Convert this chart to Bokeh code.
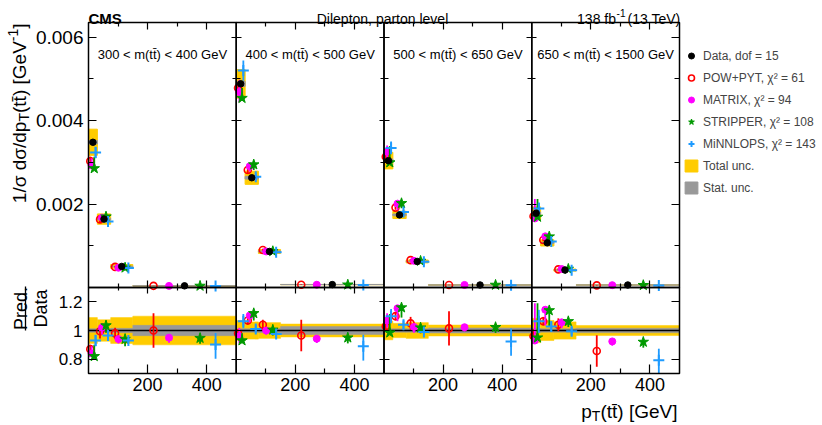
import math
from bokeh.plotting import figure
from bokeh.models import (Range1d, LinearAxis, FixedTicker, Label, Legend,
                          LegendItem, ColumnDataSource, Arrow)
from bokeh.core.properties import value
from bokeh.embed import file_html
from bokeh.resources import INLINE

FONT = "Liberation Sans"

# ---------------- data ----------------
pt_edges = [0, 30, 75, 150, 500]
mass_labels = ["300 < m(tt\u0304) < 400 GeV", "400 < m(tt\u0304) < 500 GeV",
               "500 < m(tt\u0304) < 650 GeV", "650 < m(tt\u0304) < 1500 GeV"]

data_xsec = [
    [0.00348, 0.00164, 0.000504, 0.00004],
    [0.00488, 0.00263, 0.000864, 0.00007],
    [0.00304, 0.00174, 0.000624, 0.00006],
    [0.00178, 0.00107, 0.000418, 0.00006],
]
total_unc = [
    [0.09, 0.075, 0.09, 0.10],
    [0.07, 0.06, 0.055, 0.045],
    [0.065, 0.05, 0.055, 0.038],
    [0.085, 0.07, 0.06, 0.035],
]
stat_unc = [
    [0.012, 0.012, 0.015, 0.036],
    [0.012, 0.012, 0.015, 0.028],
    [0.012, 0.012, 0.012, 0.018],
    [0.015, 0.012, 0.012, 0.016],
]

pow_ratio = [[0.87, 0.995, 0.98, 1.00], [0.98, 1.07, 1.04, 0.965],
             [1.03, 1.10, 1.05, 1.015], [0.96, 1.065, 1.04, 0.857]]
pow_up = [[0.03, 0.04, 0.04, 0.12], [0.03, 0.03, 0.035, 0.11],
          [0.03, 0.03, 0.045, 0.12], [0.05, 0.03, 0.045, 0.11]]
pow_dn = [[0.03, 0.05, 0.04, 0.12], [0.03, 0.03, 0.035, 0.11],
          [0.03, 0.03, 0.045, 0.12], [0.05, 0.03, 0.045, 0.11]]

matrix_ratio = [[0.84, 1.02, 0.94, 0.95], [0.96, 1.105, 1.00, 0.943],
                [1.07, 1.155, 1.025, 1.023], [0.93, 1.145, 1.057, 0.924]]
matrix_up = [[0.05, 0.03, 0.02, 0.015], [0.06, 0.02, 0.02, 0.015],
             [0.05, 0.01, 0.01, 0.01], [0.26, 0.02, 0.02, 0.01]]
matrix_dn = [[0.02, 0.05, 0.03, 0.035], [0.05, 0.05, 0.03, 0.03],
             [0.05, 0.09, 0.04, 0.03], [0.01, 0.11, 0.04, 0.03]]

stripper_ratio = [[0.82, 1.035, 0.94, 0.947], [0.93, 1.12, 1.005, 0.95],
                  [0.985, 1.16, 1.02, 1.023], [0.95, 1.14, 1.064, 0.92]]
stripper_up = [[0.08, 0.01, 0.01, 0.02], [0.05, 0.01, 0.01, 0.01],
               [0.13, 0.02, 0.01, 0.01], [0.24, 0.02, 0.01, 0.01]]
stripper_dn = [[0.01, 0.05, 0.05, 0.04], [0.01, 0.05, 0.04, 0.04],
               [0.01, 0.07, 0.04, 0.04], [0.005, 0.11, 0.04, 0.04]]

minnlops_ratio = [[0.93, 0.965, 0.93, 0.903], [1.065, 1.01, 0.975, 0.89],
                  [1.10, 1.04, 0.99, 0.924], [1.064, 1.028, 0.995, 0.793]]
minnlops_up = [[0.04, 0.03, 0.02, 0.08], [0.05, 0.03, 0.03, 0.08],
               [0.05, 0.03, 0.02, 0.09], [0.08, 0.03, 0.03, 0.08]]
minnlops_dn = [[0.04, 0.03, 0.02, 0.10], [0.05, 0.03, 0.03, 0.10],
               [0.05, 0.03, 0.02, 0.10], [0.08, 0.03, 0.03, 0.10]]

legend_data = "Data, dof = 15"
legend_models = ["POW+PYT, \u03c7\u00b2 = 61", "MATRIX, \u03c7\u00b2 = 94",
                 "STRIPPER, \u03c7\u00b2 = 108", "MiNNLOPS, \u03c7\u00b2 = 143"]
legend_total = "Total unc."
legend_stat = "Stat. unc."

x_major_ticks = [200, 400]
x_minor_ticks = [100, 300]
y_main_ticks = [0.002, 0.004, 0.006]
y_main_minor = [0.001, 0.003, 0.005]
y_ratio_ticks = [0.8, 1.0, 1.2]
y_ratio_labels = ["0.8", "1", "1.2"]

# ---------------- styles / layout ----------------
YELLOW = "#ffcc00"
GRAY = "#999999"
RED = "#ff0000"
MAG = "#ff00ff"
GREEN = "#009900"
BLUE = "#1e9bff"

W, H = 822, 425
PLOT_L, PLOT_R, PLOT_T, PLOT_MID, PLOT_B = 88, 679, 22, 287, 373
MAIN_HI = 0.00635
RATIO_LO, RATIO_HI = 0.7, 1.3
NP = len(data_xsec)
PW = pt_edges[-1]
XMAX = PW * NP

xpp = XMAX / (PLOT_R - PLOT_L)
mpp = MAIN_HI / (PLOT_MID - PLOT_T)
rpp = (RATIO_HI - RATIO_LO) / (PLOT_B - PLOT_MID)

p = figure(frame_width=W, frame_height=H,
           x_range=Range1d(-PLOT_L * xpp, XMAX + (W - PLOT_R) * xpp),
           y_range=Range1d(-(H - PLOT_MID) * mpp, MAIN_HI + PLOT_T * mpp),
           x_axis_type=None, y_axis_type=None, min_border=0,
           output_backend="svg", toolbar_location=None)
p.extra_y_ranges = {"ratio": Range1d(RATIO_LO - (H - PLOT_B) * rpp,
                                     RATIO_HI + PLOT_MID * rpp)}
p.outline_line_color = None
p.background_fill_color = "white"
p.border_fill_color = "white"
p.xgrid.visible = False
p.ygrid.visible = False


def X(px):
    return (px - PLOT_L) * xpp


def Y(py):
    return MAIN_HI - (py - PLOT_T) * mpp


# flatten bins
lo, hi, ctr, wid, d, tot, st = [], [], [], [], [], [], []
for i in range(NP):
    for j in range(len(pt_edges) - 1):
        a = pt_edges[j] + i * PW
        b = pt_edges[j + 1] + i * PW
        lo.append(a); hi.append(b); ctr.append((a + b) / 2); wid.append(b - a)
        d.append(data_xsec[i][j]); tot.append(total_unc[i][j]); st.append(stat_unc[i][j])

box = ColumnDataSource(dict(
    lo=lo, hi=hi,
    tb=[v * (1 - u) for v, u in zip(d, tot)], tt=[v * (1 + u) for v, u in zip(d, tot)],
    sb=[v * (1 - u) for v, u in zip(d, st)], stp=[v * (1 + u) for v, u in zip(d, st)],
    rtb=[1 - u for u in tot], rtt=[1 + u for u in tot],
    rsb=[1 - u for u in st], rst=[1 + u for u in st]))

r_tot = p.quad(left="lo", right="hi", bottom="tb", top="tt", source=box,
               fill_color=YELLOW, line_color=YELLOW, line_width=1)
r_stat = p.quad(left="lo", right="hi", bottom="sb", top="stp", source=box,
                fill_color=GRAY, line_color=GRAY, line_width=1)
p.quad(left="lo", right="hi", bottom="rtb", top="rtt", source=box,
       fill_color=YELLOW, line_color=YELLOW, line_width=0.5, y_range_name="ratio")
p.quad(left="lo", right="hi", bottom="rsb", top="rst", source=box,
       fill_color=GRAY, line_color=GRAY, line_width=0.5, y_range_name="ratio")
p.segment(x0=[0], x1=[XMAX], y0=[1.0], y1=[1.0], line_color="black", line_width=1.5,
          y_range_name="ratio")

models = [
    (pow_ratio, pow_up, pow_dn, -2, dict(marker="circle", size=7, fill_color=None, line_color=RED, line_width=1.6), RED),
    (matrix_ratio, matrix_up, matrix_dn, -1, dict(marker="circle", size=7, fill_color=MAG, line_color=MAG), MAG),
    (stripper_ratio, stripper_up, stripper_dn, 1, dict(marker="star", size=11, fill_color=GREEN, line_color=GREEN), GREEN),
    (minnlops_ratio, minnlops_up, minnlops_dn, 2, dict(marker="cross", size=11, line_color=BLUE, line_width=2), BLUE),
]
model_renderers = []
for ratio, up, dn, k, mstyle, col in models:
    rr = [ratio[i][j] for i in range(NP) for j in range(len(pt_edges) - 1)]
    uu = [up[i][j] for i in range(NP) for j in range(len(pt_edges) - 1)]
    dd = [dn[i][j] for i in range(NP) for j in range(len(pt_edges) - 1)]
    src = ColumnDataSource(dict(
        x=[c + k * 0.15 * w for c, w in zip(ctr, wid)],
        y=[v * r for v, r in zip(d, rr)],
        y0=[v * (r - e) for v, r, e in zip(d, rr, dd)],
        y1=[v * (r + e) for v, r, e in zip(d, rr, uu)],
        r=rr, r0=[max(r - e, RATIO_LO) for r, e in zip(rr, dd)],
        r1=[min(r + e, RATIO_HI) for r, e in zip(rr, uu)]))
    p.segment(x0="x", y0="y0", x1="x", y1="y1", source=src, line_color=col, line_width=1.8)
    p.segment(x0="x", y0="r0", x1="x", y1="r1", source=src, line_color=col, line_width=1.8,
              y_range_name="ratio")
    rm = p.scatter(x="x", y="y", source=src, **mstyle)
    p.scatter(x="x", y="r", source=src, y_range_name="ratio", **mstyle)
    model_renderers.append(rm)

dsrc = ColumnDataSource(dict(x=ctr, y=d))
r_data = p.scatter(x="x", y="y", source=dsrc, marker="circle", size=6.5,
                   fill_color="black", line_color="black")

# pad frames (one per mass bin, main and ratio)
pads = ColumnDataSource(dict(l=[i * PW for i in range(NP)], r=[(i + 1) * PW for i in range(NP)]))
p.quad(left="l", right="r", bottom=0, top=MAIN_HI, source=pads,
       fill_color=None, line_color="black", line_width=1.5)
p.quad(left="l", right="r", bottom=RATIO_LO, top=RATIO_HI, source=pads,
       fill_color=None, line_color="black", line_width=1.5, y_range_name="ratio")

# ---------------- axes (all pinned to the pads) ----------------
xt_major = [t + i * PW for i in range(NP) for t in x_major_ticks]
xt_minor = [t + i * PW for i in range(NP) for t in x_minor_ticks]


def style(ax, tin, tout, mtin, mtout, ticks, labels=None, size=None, standoff=5):
    ax.major_tick_in = tin
    ax.major_tick_out = tout
    ax.minor_tick_in = mtin
    ax.minor_tick_out = mtout
    ax.axis_line_color = None
    ax.major_tick_line_color = "black"
    ax.major_tick_line_width = 1.2
    ax.minor_tick_line_color = "black"
    ax.minor_tick_line_width = 1.2
    if labels is None:
        ax.major_label_overrides = {t: "" for t in ticks}
        ax.major_label_standoff = 0
    else:
        ax.major_label_overrides = dict(zip(ticks, labels))
        ax.major_label_text_font = FONT
        ax.major_label_text_font_size = size
        ax.major_label_text_color = "black"
        ax.major_label_standoff = standoff
    return ax


xlab = [str(t) for i in range(NP) for t in x_major_ticks]

bottom = LinearAxis(ticker=FixedTicker(ticks=xt_major, minor_ticks=xt_minor),
                    y_range_name="ratio", fixed_location=RATIO_LO)
style(bottom, 9, 0, 5, 0, xt_major, xlab, "18px", 4)
p.add_layout(bottom, "below")

top = LinearAxis(ticker=FixedTicker(ticks=xt_major, minor_ticks=xt_minor),
                 fixed_location=MAIN_HI)
style(top, 7, 0, 4, 0, xt_major)
p.add_layout(top, "above")

mid = LinearAxis(ticker=FixedTicker(ticks=xt_major, minor_ticks=xt_minor), fixed_location=0)
style(mid, 7, 6, 4, 3, xt_major)
p.add_layout(mid, "below")

left_main = LinearAxis(ticker=FixedTicker(ticks=y_main_ticks, minor_ticks=y_main_minor),
                       fixed_location=0)
style(left_main, 8, 0, 5, 0, y_main_ticks, [f"{t:.3f}" for t in y_main_ticks], "19px", 5)
p.add_layout(left_main, "left")

left_ratio = LinearAxis(y_range_name="ratio", ticker=FixedTicker(ticks=y_ratio_ticks),
                        fixed_location=0)
style(left_ratio, 8, 0, 0, 0, y_ratio_ticks, y_ratio_labels, "17px", 6)
p.add_layout(left_ratio, "left")

for i in range(1, NP):
    sm = LinearAxis(ticker=FixedTicker(ticks=y_main_ticks, minor_ticks=y_main_minor),
                    fixed_location=i * PW)
    style(sm, 5, 5, 4, 4, y_main_ticks)
    p.add_layout(sm, "left")
    sr = LinearAxis(y_range_name="ratio", ticker=FixedTicker(ticks=y_ratio_ticks),
                    fixed_location=i * PW)
    style(sr, 5, 5, 0, 0, y_ratio_ticks)
    p.add_layout(sr, "left")

right_main = LinearAxis(ticker=FixedTicker(ticks=y_main_ticks, minor_ticks=y_main_minor),
                        fixed_location=XMAX)
style(right_main, 8, 0, 5, 0, y_main_ticks)
p.add_layout(right_main, "right")
right_ratio = LinearAxis(y_range_name="ratio", ticker=FixedTicker(ticks=y_ratio_ticks),
                         fixed_location=XMAX)
style(right_ratio, 8, 0, 0, 0, y_ratio_ticks)
p.add_layout(right_ratio, "right")


# ---------------- texts ----------------
def lab(text, px, py, size, align="left", baseline="alphabetic", angle=0.0, fstyle="normal"):
    p.add_layout(Label(x=X(px), y=Y(py), text=text, text_font=FONT,
                       text_font_size=f"{size}px", text_align=align,
                       text_baseline=baseline, angle=angle, angle_units="rad",
                       text_font_style=fstyle, text_color="black"))


lab("CMS", 88, 18, 15, fstyle="bold")
lab("Dilepton, parton level", 382, 18, 14, align="center")
lab("(13 TeV)", 680, 18, 14, align="right")
lab("-1", 625, 12.5, 10, align="right")
lab("138 fb", 615.5, 18, 14, align="right")

for i, t in enumerate(mass_labels):
    p.add_layout(Label(x=i * PW + PW / 2, y=Y(53.5), text=t, text_font=FONT,
                       text_font_size="13px", text_align="center",
                       text_baseline="alphabetic", text_color="black"))

A = math.pi / 2
# y title, built from the top down (rotated text)
lab("]", 19, 23, 19, align="right", angle=A)
lab("-1", 12, 28.3, 14, align="right", angle=A)
lab("(tt\u0304) [GeV", 19, 40.7, 19, align="right", angle=A)
lab("T", 23, 112.5, 14, align="right", angle=A)
lab("1/\u03c3 d\u03c3/dp", 19, 121.1, 19, align="right", angle=A)

# ratio title
lab("Pred.", 20, 308, 18, align="center", angle=A)
lab("Data", 40, 308, 18, align="center", angle=A)
p.add_layout(Arrow(end=None, x_start=X(25), y_start=Y(286), x_end=X(25), y_end=Y(330),
                   line_color="black", line_width=1.3))

# x title
lab("(tt\u0304) [GeV]", 677, 411, 19, align="right")
lab("T", 599.9, 415, 14, align="right")
lab("p", 591.3, 411, 19, align="right")

# ---------------- legend ----------------
items = [LegendItem(label=value(legend_data), renderers=[r_data])]
for name, r in zip(legend_models, model_renderers):
    items.append(LegendItem(label=value(name), renderers=[r]))
items.append(LegendItem(label=value(legend_total), renderers=[r_tot]))
items.append(LegendItem(label=value(legend_stat), renderers=[r_stat]))
legend = Legend(items=items, location=(683, H - 195), orientation="vertical",
                label_text_font=FONT, label_text_font_size="12px",
                glyph_width=16, glyph_height=15, label_height=15,
                label_standoff=4, spacing=7, padding=0, margin=0,
                border_line_color=None, background_fill_alpha=0)
p.add_layout(legend, "center")

open("out.html", "w").write(file_html(p, INLINE))
